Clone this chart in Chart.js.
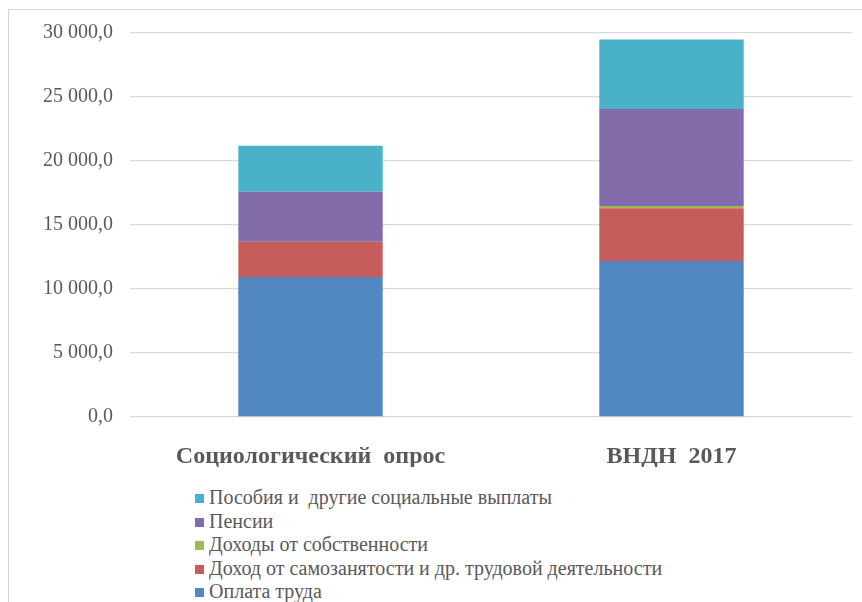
<!DOCTYPE html>
<html>
<head>
<meta charset="utf-8">
<script src="https://cdn.jsdelivr.net/npm/chart.js@4"></script>
<style>
    body { margin: 0; background: #fff; width: 862px; height: 602px; overflow: hidden; position: relative; }
    #frame { position: absolute; left: 8px; top: 9px; width: 900px; height: 700px; border: 1.5px solid #d6d6d6; box-sizing: border-box; }
    #chartBox { position: absolute; left: 0; top: 0; width: 862px; height: 467px; }
    #legend { position: absolute; left: 195px; top: 486px; font-family: 'Liberation Serif'; font-size: 20px; color: #595959; }
    #legend div { height: 23.6px; line-height: 23.6px; white-space: pre; }
    #legend span { display: inline-block; width: 9px; height: 9px; margin-right: 5px; vertical-align: 1px; }
</style>
</head>
<body>
<div id="frame"></div>
<div id="chartBox"><canvas id="incomeChart"></canvas></div>
<div id="legend"></div>
<script>
// data
const categories = ['Социологический  опрос', 'ВНДН  2017'];
const seriesNames = [
    'Оплата труда',
    'Доход от самозанятости и др. трудовой деятельности',
    'Доходы от собственности',
    'Пенсии',
    'Пособия и  другие социальные выплаты'
];
const wages = [10940, 12190];
const selfEmployment = [2760, 4110];
const property = [0, 180];
const pensions = [3900, 7580];
const benefits = [3600, 5440];
const yTicks = [0, 5000, 10000, 15000, 20000, 25000, 30000];

const colors = ['#5288C1', '#C55E5B', '#9BBB59', '#826DAA', '#4AB2C8'];
const values = [wages, selfEmployment, property, pensions, benefits];

function formatTick(v) {
    const parts = v.toFixed(1).split('.');
    return parts[0].replace(/\B(?=(\d{3})+(?!\d))/g, ' ') + ',' + parts[1];
}

function drawChart() {
    const ctx = document.getElementById('incomeChart').getContext('2d');
    new Chart(ctx, {
        type: 'bar',
        data: {
            labels: categories,
            datasets: seriesNames.map((name, i) => ({
                label: name,
                data: values[i],
                backgroundColor: colors[i],
                borderWidth: 0,
                barPercentage: 0.4,
                categoryPercentage: 1
            }))
        },
        options: {
            responsive: true,
            maintainAspectRatio: false,
            animation: false,
            layout: { padding: { left: 10, right: 10, top: 33, bottom: 0 } },
            plugins: { legend: { display: false }, tooltip: { enabled: false } },
            scales: {
                x: {
                    stacked: true,
                    grid: { display: false },
                    border: { display: false },
                    ticks: {
                        padding: 17,
                        color: '#595959',
                        font: { family: "'Liberation Serif'", size: 24, weight: 'bold' }
                    },
                    afterFit: function(scale) { scale.height = 50; }
                },
                y: {
                    stacked: true,
                    min: 0,
                    max: 30000,
                    afterBuildTicks: function(scale) { scale.ticks = yTicks.map(v => ({ value: v })); },
                    grid: { color: '#d9d9d9', lineWidth: 1.3, tickLength: 0 },
                    border: { display: false },
                    ticks: {
                        padding: 17,
                        color: '#595959',
                        font: { family: "'Liberation Serif'", size: 20 },
                        callback: formatTick
                    },
                    afterFit: function(scale) { scale.width = 120; }
                }
            }
        }
    });

    // legend, reversed like the original
    const legend = document.getElementById('legend');
    for (let i = seriesNames.length - 1; i >= 0; i--) {
        const row = document.createElement('div');
        const box = document.createElement('span');
        box.style.background = colors[i];
        row.appendChild(box);
        row.appendChild(document.createTextNode(seriesNames[i]));
        legend.appendChild(row);
    }
}

Promise.all([
    document.fonts.load("20px 'Liberation Serif'"),
    document.fonts.load("bold 24px 'Liberation Serif'")
]).then(drawChart, drawChart);
</script>
</body>
</html>
